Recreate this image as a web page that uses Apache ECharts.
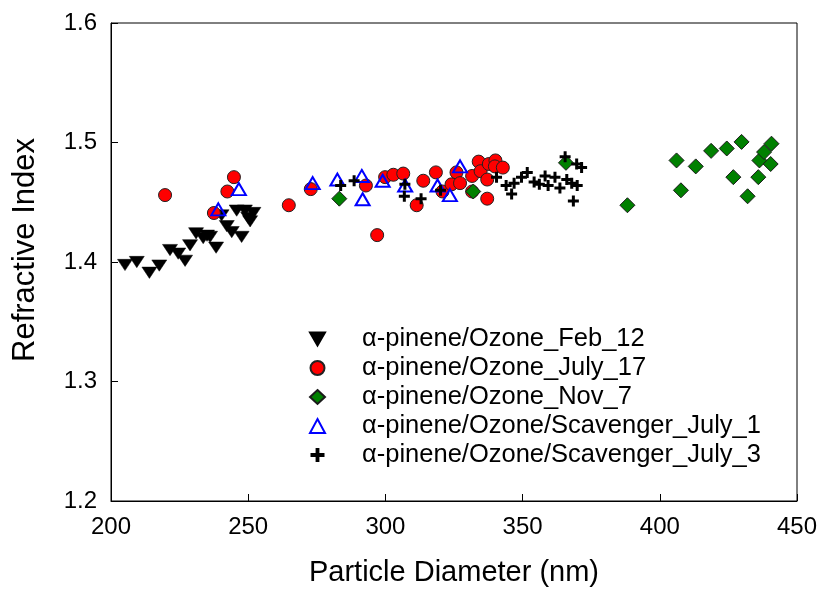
<!DOCTYPE html>
<html>
<head>
<meta charset="utf-8">
<script src="https://cdn.jsdelivr.net/npm/echarts@6/dist/echarts.min.js"></script>
<style>
  html, body { margin: 0; padding: 0; background: #fff; }
  #chart { width: 822px; height: 592px; }
</style>
</head>
<body>
<div id="chart"></div>
<script>
const X_TICKS = [200, 250, 300, 350, 400, 450];
const Y_TICKS = [1.2, 1.3, 1.4, 1.5, 1.6];

const seriesNames = [
  "\u03b1-pinene/Ozone_Feb_12",
  "\u03b1-pinene/Ozone_July_17",
  "\u03b1-pinene/Ozone_Nov_7",
  "\u03b1-pinene/Ozone/Scavenger_July_1",
  "\u03b1-pinene/Ozone/Scavenger_July_3",
];

// [diameter nm, refractive index]
const feb12 = [
  [205.1, 1.3975], [209.4, 1.400], [214.0, 1.391], [217.6, 1.397], [221.5, 1.410],
  [224.5, 1.407], [227.0, 1.401], [228.8, 1.414], [231.0, 1.424], [233.6, 1.420],
  [235.0, 1.422], [236.1, 1.421], [238.3, 1.412], [240.3, 1.439], [242.2, 1.430],
  [244.0, 1.425], [247.6, 1.421], [245.8, 1.443], [248.8, 1.443], [250.7, 1.434],
  [251.9, 1.441], [250.0, 1.437],
];

const july17 = [
  [219.7, 1.456], [237.5, 1.441], [242.4, 1.459], [244.8, 1.471], [264.8, 1.4475],
  [272.8, 1.461], [292.9, 1.464], [297.0, 1.4225], [299.9, 1.471], [302.9, 1.473],
  [306.5, 1.474], [311.4, 1.4475], [313.8, 1.468], [318.4, 1.475], [320.8, 1.459],
  [324.1, 1.465], [325.9, 1.475], [327.2, 1.466], [331.6, 1.472], [334.0, 1.484],
  [331.6, 1.459], [334.7, 1.476], [337.1, 1.469], [337.7, 1.482], [340.1, 1.485],
  [339.9, 1.480], [342.8, 1.479], [337.1, 1.453],
];

const nov7 = [
  [283.2, 1.453], [332.0, 1.459], [365.8, 1.483], [388.2, 1.4475], [406.1, 1.485],
  [407.7, 1.460], [413.1, 1.480], [418.7, 1.493], [424.4, 1.495], [429.8, 1.5005],
  [426.8, 1.471], [432.0, 1.455], [435.9, 1.471], [436.3, 1.485], [438.0, 1.492],
  [440.7, 1.499], [440.4, 1.482],
];

const scavJuly1 = [
  [239.1, 1.444], [246.6, 1.461], [273.5, 1.466], [282.5, 1.469], [291.4, 1.472],
  [291.7, 1.4525], [299.0, 1.468], [307.2, 1.464], [319.0, 1.464], [323.5, 1.456],
  [327.2, 1.480],
];

const scavJuly3 = [
  [283.7, 1.464], [288.6, 1.468], [307.1, 1.465], [306.9, 1.455], [313.0, 1.453],
  [320.1, 1.460], [340.5, 1.471], [344.0, 1.464], [346.9, 1.466], [346.0, 1.457],
  [349.6, 1.471], [351.7, 1.475], [354.2, 1.467], [356.1, 1.465], [358.2, 1.472],
  [359.3, 1.464], [361.8, 1.471], [363.6, 1.462], [366.1, 1.469], [365.5, 1.488],
  [367.9, 1.466], [369.9, 1.464], [371.5, 1.479], [369.7, 1.482], [368.5, 1.451],
];

const FONT = "'Liberation Sans', Arial, sans-serif";
const PLUS = "path://M4,0h3v4h4v3h-4v4h-3v-4h-4v-3h4z";
const DOWN_TRI = "path://M0,0L15,0L7.5,13z";

const chart = echarts.init(document.getElementById("chart"));

const axisCommon = {
  axisLine: { show: true, onZero: false, lineStyle: { color: "#000", width: 1 } },
  axisTick: { show: true, inside: true, length: 7, lineStyle: { color: "#000", width: 1 } },
  splitLine: { show: false },
  axisLabel: { color: "#000", fontSize: 24, fontFamily: FONT, margin: 14 },
  nameLocation: "middle",
  nameTextStyle: { color: "#000", fontSize: 29, fontFamily: FONT },
};

chart.setOption({
  animation: false,
  backgroundColor: "#fff",
  grid: { left: 111, right: 25, top: 23, bottom: 89, show: true, borderColor: "#000", borderWidth: 1 },
  legend: {
    orient: "vertical",
    left: 309,
    top: 326,
    padding: 0,
    itemWidth: 15,
    itemHeight: 14,
    itemGap: 3,
    textStyle: { color: "#000", fontSize: 25.5, fontFamily: FONT, lineHeight: 25.5, padding: [0, 0, 0, 32] },
    data: seriesNames,
  },
  xAxis: Object.assign({}, axisCommon, {
    type: "value",
    min: X_TICKS[0],
    max: X_TICKS[X_TICKS.length - 1],
    interval: 50,
    name: "Particle Diameter (nm)",
    nameGap: 57,
  }),
  yAxis: Object.assign({}, axisCommon, {
    type: "value",
    min: Y_TICKS[0],
    max: Y_TICKS[Y_TICKS.length - 1],
    interval: 0.1,
    name: "Refractive Index",
    nameGap: 70,
    nameTextStyle: Object.assign({}, axisCommon.nameTextStyle, { fontSize: 31, padding: [0, 0, 0, 24] }),
    axisLabel: Object.assign({}, axisCommon.axisLabel, { formatter: v => v.toFixed(1) }),
  }),
  series: [
    {
      name: seriesNames[0], type: "scatter", data: feb12,
      symbol: DOWN_TRI, symbolSize: [15, 13], symbolKeepAspect: true,
      itemStyle: { color: "#000", borderColor: "#000", borderWidth: 0.5, opacity: 1 },
    },
    {
      name: seriesNames[1], type: "scatter", data: july17,
      symbol: "circle", symbolSize: 13,
      itemStyle: { color: "#ff0000", borderColor: "#222", borderWidth: 1, opacity: 1 },
    },
    {
      name: seriesNames[2], type: "scatter", data: nov7,
      symbol: "diamond", symbolSize: 15,
      itemStyle: { color: "#008000", borderColor: "#1a1a1a", borderWidth: 1, opacity: 1 },
    },
    {
      name: seriesNames[3], type: "scatter", data: scavJuly1,
      symbol: "triangle", symbolSize: [14, 12],
      itemStyle: { color: "rgba(255,255,255,0)", borderColor: "#0000ff", borderWidth: 2, opacity: 1 },
    },
    {
      name: seriesNames[4], type: "scatter", data: scavJuly3,
      symbol: PLUS, symbolSize: 11,
      itemStyle: { color: "#000", opacity: 1 },
    },
  ],
});
</script>
</body>
</html>
